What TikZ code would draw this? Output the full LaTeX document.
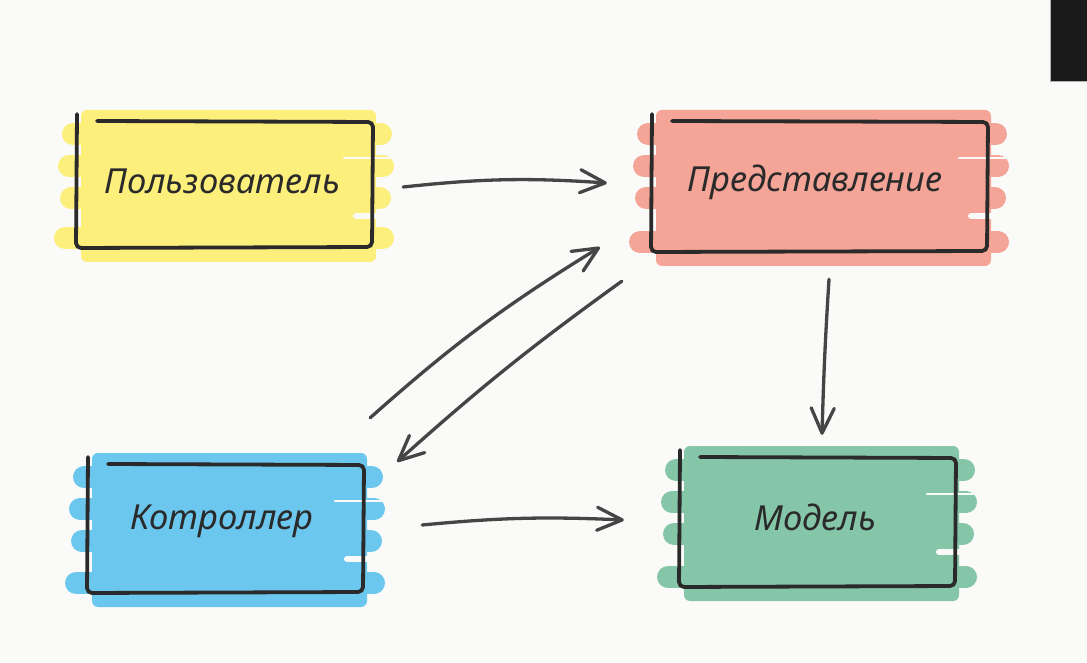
\documentclass[tikz,border=0pt]{standalone}
\usepackage{fontspec}
\setmainfont{Noto Sans}
\usetikzlibrary{arrows.meta,calc,fit}

\definecolor{paper}{HTML}{FAFAF8}
\definecolor{ink}{HTML}{2A2A2A}
\definecolor{arrowink}{HTML}{454545}
\definecolor{hiyellow}{HTML}{FCEF7C}
\definecolor{hisalmon}{HTML}{F5A597}
\definecolor{hiblue}{HTML}{6CC7EF}
\definecolor{higreen}{HTML}{86C6A8}
\definecolor{corner}{HTML}{1A1A1A}

\tikzset{
  outline/.style={draw=ink, line width=3.8pt, line cap=round, line join=round, rounded corners=5pt},
  band/.style={line width=22pt, line cap=round},
  streak/.style={draw=paper, line cap=round},
  lbl/.style={text=ink, font=\fontsize{34.5}{40}\selectfont\itshape, inner sep=0pt},
  flow/.style={draw=arrowink, line width=3.3pt, line cap=round,
    -{Straight Barb[length=25pt,width=23pt,line cap=round,line join=round]}},
  boxnode/.style={inner sep=0pt}
}

% Marker-painted box with a loose hand-drawn frame:
% #1 name, #2 left, #3 top, #4 right, #5 bottom, #6 colour
\newcommand\sketchbox[6]{%
  \fill[#6, rounded corners=6pt] (#2+4,#3+12) rectangle (#4+4,#5-14);
  \draw[#6, band] (#2-4,#3-12) -- (#4+9,#3-12);
  \draw[#6, band] (#2-8,#3-44) -- (#4+11,#3-44);
  \draw[#6, band] (#2-6,#3-76) -- (#4+8,#3-76);
  \draw[#6, band] (#2-12,#5+10) -- (#4+11,#5+10);
  \draw[streak, line width=2.5pt] (#4-28,#3-36) -- (#4+22,#3-36);
  \draw[streak, line width=6pt] (#4-16,#3-94) -- (#4+22,#3-94);
  \node[boxnode, fit={(#2,#3) (#4,#5)}] (#1) {};
  \draw[outline] (#2,#3+8) -- (#2-1,#5) -- (#4,#5+1) -- (#4+1,#3) -- (#2+20,#3+1);
}

\begin{document}
\begin{tikzpicture}[x=1pt,y=1pt]
  \useasboundingbox (0,0) rectangle (1087,662);
  \fill[paper] (0,0) rectangle (1087,662);
  \fill[corner] (1050,662) rectangle (1087,581);
  \draw[gray!60, line width=0.8pt] (1050,662) -- (1050,581) -- (1087,581);

  \sketchbox{user}{77}{540}{372}{414}{hiyellow}
  \sketchbox{view}{652}{540}{987}{410}{hisalmon}
  \sketchbox{ctrl}{88}{197}{363}{69}{hiblue}
  \sketchbox{model}{680}{204}{955}{75}{higreen}

  \node[lbl] (userL)  at (222,481) {Пользователь};
  \node[lbl] (viewL)  at (815,480) {Представление};
  \node[lbl] (ctrlL)  at (222,141) {Котроллер};
  \node[lbl] (modelL) at (815,145) {Модель};

  \draw[flow] ($(user.east)+(31,-2)$) to[bend left=5] ($(view.west)+(-45,4)$);
  \draw[flow] ($(ctrl.north east)+(7,47)$) to[bend left=5] ($(view.south west)+(-52,5)$);
  \draw[flow] ($(view.south west)+(-30,-29)$) to[bend right=3] ($(ctrl.north east)+(34,3)$);
  \draw[flow] ($(view.south)+(9.5,-27)$) to[bend right=1] ($(model.north)+(4.5,23)$);
  \draw[flow] ($(ctrl.east)+(59,4)$) to[bend left=4] ($(model.west)+(-56,2.5)$);
\end{tikzpicture}
\end{document}
